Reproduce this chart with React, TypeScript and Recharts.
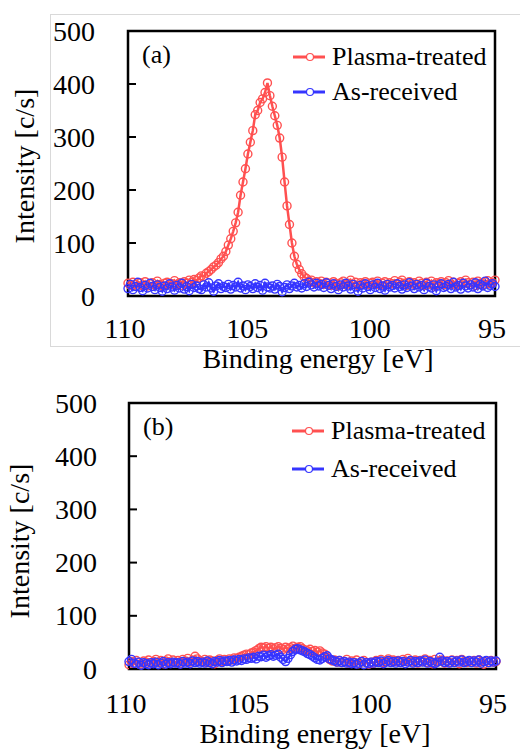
import { LineChart, Line, XAxis, YAxis, ReferenceArea, Legend, Label } from 'recharts';

const FONT = 'Liberation Serif';
const RED = '#ff5050';
const BLUE = '#3535ff';

// binding energy [eV], 0.1 eV steps
const energy = [
  110.0, 109.9, 109.8, 109.7, 109.6, 109.5, 109.4, 109.3, 109.2, 109.1,
  109.0, 108.9, 108.8, 108.7, 108.6, 108.5, 108.4, 108.3, 108.2, 108.1,
  108.0, 107.9, 107.8, 107.7, 107.6, 107.5, 107.4, 107.3, 107.2, 107.1,
  107.0, 106.9, 106.8, 106.7, 106.6, 106.5, 106.4, 106.3, 106.2, 106.1,
  106.0, 105.9, 105.8, 105.7, 105.6, 105.5, 105.4, 105.3, 105.2, 105.1,
  105.0, 104.9, 104.8, 104.7, 104.6, 104.5, 104.4, 104.3, 104.2, 104.1,
  104.0, 103.9, 103.8, 103.7, 103.6, 103.5, 103.4, 103.3, 103.2, 103.1,
  103.0, 102.9, 102.8, 102.7, 102.6, 102.5, 102.4, 102.3, 102.2, 102.1,
  102.0, 101.9, 101.8, 101.7, 101.6, 101.5, 101.4, 101.3, 101.2, 101.1,
  101.0, 100.9, 100.8, 100.7, 100.6, 100.5, 100.4, 100.3, 100.2, 100.1,
  100.0, 99.9, 99.8, 99.7, 99.6, 99.5, 99.4, 99.3, 99.2, 99.1,
  99.0, 98.9, 98.8, 98.7, 98.6, 98.5, 98.4, 98.3, 98.2, 98.1,
  98.0, 97.9, 97.8, 97.7, 97.6, 97.5, 97.4, 97.3, 97.2, 97.1,
  97.0, 96.9, 96.8, 96.7, 96.6, 96.5, 96.4, 96.3, 96.2, 96.1,
  96.0, 95.9, 95.8, 95.7, 95.6, 95.5, 95.4, 95.3, 95.2, 95.1,
  95.0,
];

// panel (a)
const plasmaA = [
  24, 20, 26, 22, 18, 25, 21, 27, 19, 23,
  25, 20, 28, 22, 19, 24, 26, 21, 23, 29,
  22, 25, 20, 27, 24, 30, 26, 31, 29, 34,
  38, 37, 43, 46, 50, 55, 58, 63, 70, 75,
  84, 96, 108, 122, 138, 158, 190, 215, 240, 268,
  290, 312, 342, 350, 365, 372, 384, 402, 378, 358,
  340, 322, 298, 262, 215, 170, 135, 100, 75, 60,
  50, 42, 36, 33, 28, 30, 25, 27, 24, 28,
  22, 26, 24, 20, 27, 23, 19, 25, 28, 21,
  24, 30, 22, 26, 20, 25, 23, 27, 21, 24,
  26, 22, 28, 20, 24, 27, 21, 25, 23, 29,
  22, 26, 30, 24, 20, 27, 23, 25, 21, 28,
  24, 20, 26, 22, 28, 19, 25, 23, 27, 21,
  25, 29, 22, 26, 20, 24, 27, 23, 30, 25,
  22, 26, 20, 28, 24, 21, 27, 29, 23, 25,
  30,
];
const asReceivedA = [
  14, 22, 12, 18, 26, 16, 10, 20, 15, 24,
  18, 12, 21, 16, 9, 19, 14, 23, 17, 11,
  20, 15, 24, 13, 18, 10, 22, 16, 19, 14,
  12, 21, 17, 25, 15, 9, 19, 23, 14, 18,
  16, 22, 13, 20, 17, 26, 15, 19, 12, 21,
  18, 14, 23, 16, 20, 11, 24, 17, 15, 19,
  13, 22, 18, 8, 16, 21, 14, 19, 24, 17,
  20, 15, 23, 18, 26, 21, 17, 24, 19, 22,
  16, 25, 20, 14, 23, 18, 12, 21, 17, 24,
  19, 13, 22, 17, 9, 20, 15, 23, 18, 12,
  21, 16, 24, 14, 19, 11, 22, 17, 20, 15,
  23, 18, 13, 21, 16, 25, 19, 14, 22, 17,
  20, 12, 24, 18, 15, 21, 10, 19, 23, 16,
  18, 22, 14, 26, 17, 20, 13, 24, 19, 15,
  21, 17, 25, 14, 22, 19, 28, 16, 20, 23,
  18,
];

// panel (b)
const plasmaB = [
  8, 14, 10, 16, 12, 9, 15, 13, 17, 11,
  14, 18, 12, 16, 10, 15, 19, 13, 17, 12,
  16, 11, 18, 14, 20, 13, 17, 24, 19, 15,
  14, 18, 12, 17, 15, 10, 16, 19, 14, 18,
  15, 19, 17, 21, 20, 22, 24, 26, 28, 27,
  30, 32, 35, 38, 41, 40, 42, 39, 41, 38,
  40, 42, 39, 37, 41, 38, 40, 43, 39, 41,
  42, 38, 36, 34, 37, 33, 35, 32, 34, 30,
  28, 22, 18, 15, 17, 13, 16, 12, 14, 18,
  11, 15, 13, 17, 10, 14, 16, 12, 9, 13,
  11, 16, 14, 18, 12, 15, 19, 13, 17, 14,
  16, 12, 18, 14, 20, 15, 13, 17, 11, 16,
  14, 19, 12, 16, 10, 18, 13, 15, 17, 11,
  15, 12, 17, 13, 16, 10, 18, 14, 12, 15,
  13, 16, 11, 17, 14, 9, 15, 12, 16, 13,
  14,
];
const asReceivedB = [
  14, 18, 11, 9, 13, 7, 12, 10, 8, 12,
  10, 13, 8, 11, 14, 9, 12, 10, 13, 11,
  12, 9, 14, 11, 13, 10, 15, 12, 14, 11,
  13, 11, 15, 12, 10, 14, 13, 16, 12, 15,
  14, 16, 13, 17, 15, 18, 16, 19, 18, 21,
  20, 22, 19, 24, 23, 26, 22, 25, 27, 24,
  26, 28, 22, 18, 14, 20, 27, 33, 37, 38,
  36, 34, 32, 29, 27, 24, 21, 18, 17, 20,
  23, 25, 19, 17, 15, 13, 16, 12, 14, 11,
  13, 10, 12, 9, 11, 14, 8, 12, 10, 13,
  11, 14, 12, 15, 10, 13, 16, 12, 14, 11,
  15, 12, 14, 10, 13, 16, 11, 14, 12, 15,
  13, 17, 11, 14, 12, 10, 13, 22, 15, 12,
  14, 11, 16, 12, 15, 13, 17, 12, 14, 16,
  12, 15, 13, 17, 11, 14, 16, 12, 15, 13,
  15,
];

const xTicks = [110, 105, 100, 95];
const yTicks = [0, 100, 200, 300, 400, 500];
const seriesNames = ['Plasma-treated', 'As-received'];

function XTick(props: any) {
  const { x, y, payload } = props;
  return (
    <text x={x - 3} y={y} textAnchor="middle" fontSize={28} fontFamily={FONT} fill="#000">
      {payload.value}
    </text>
  );
}

function YTick(props: any) {
  const { x, y, payload, gap } = props;
  return (
    <g>
      <text x={x} y={y} dy="0.34em" textAnchor="end" fontSize={28} fontFamily={FONT} fill="#000">
        {payload.value}
      </text>
      <line x1={x + gap} x2={x + gap + 8} y1={y} y2={y} stroke="#000" strokeWidth={2} />
    </g>
  );
}

function LegendBox({ rows }: { rows: number[] }) {
  const colors = [RED, BLUE];
  return (
    <svg width={230} height={90}>
      {seriesNames.map((name, i) => (
        <g key={name}>
          <line x1={8} x2={40} y1={rows[i]} y2={rows[i]} stroke={colors[i]} strokeWidth={3} />
          <circle cx={25} cy={rows[i]} r={3.5} fill="#fff" stroke={colors[i]} strokeWidth={1.2} />
          <text x={47} y={rows[i] + 8} fontSize={26} fontFamily={FONT} fill="#000">
            {name}
          </text>
        </g>
      ))}
    </svg>
  );
}

function Panel({ cfg, plasma, asReceived }: any) {
  const rows = energy.map((e, i) => ({ e, plasma: plasma[i], asrec: asReceived[i] }));
  return (
    <LineChart width={520} height={375} data={rows} margin={cfg.margin}>
      <XAxis
        dataKey="e"
        type="number"
        domain={[95, 110]}
        reversed
        ticks={xTicks}
        interval={0}
        axisLine={false}
        tickLine={false}
        tickSize={0}
        tickMargin={cfg.xTickGap}
        tick={(p: any) => <XTick {...p} />}
        height={40}
      >
        <Label
          content={() => (
            <text x={cfg.xTitle[0]} y={cfg.xTitle[1]} textAnchor="middle" fontSize={28} fontFamily={FONT} fill="#000">
              Binding energy [eV]
            </text>
          )}
        />
      </XAxis>
      <YAxis
        type="number"
        domain={[0, 500]}
        ticks={yTicks}
        interval={0}
        width={78}
        axisLine={false}
        tickLine={false}
        tickSize={0}
        tickMargin={cfg.yTickGap}
        tick={(p: any) => <YTick {...p} gap={cfg.yTickGap} />}
      >
        <Label
          content={() => (
            <text
              x={cfg.yTitle[0]}
              y={cfg.yTitle[1]}
              transform={`rotate(-90 ${cfg.yTitle[0]} ${cfg.yTitle[1]})`}
              textAnchor="middle"
              fontSize={28}
              fontFamily={FONT}
              fill="#000"
            >
              Intensity [c/s]
            </text>
          )}
        />
      </YAxis>
      <ReferenceArea
        x1={110}
        x2={95}
        y1={0}
        y2={500}
        fill="none"
        fillOpacity={0}
        stroke="#000"
        strokeWidth={2.5}
        ifOverflow="visible"
        label={{ value: cfg.tag, position: 'insideTopLeft', offset: 14, fontSize: 26, fontFamily: FONT, fill: '#000' }}
      />
      <Line
        dataKey="plasma"
        name={seriesNames[0]}
        type="linear"
        stroke={RED}
        strokeWidth={2.5}
        dot={{ r: 4, stroke: RED, strokeWidth: 1.4, fill: 'none' }}
        isAnimationActive={false}
      />
      <Line
        dataKey="asrec"
        name={seriesNames[1]}
        type="linear"
        stroke={BLUE}
        strokeWidth={2.5}
        dot={{ r: 4, stroke: BLUE, strokeWidth: 1.4, fill: 'none' }}
        isAnimationActive={false}
      />
      <Legend
        layout="vertical"
        align="center"
        verticalAlign="middle"
        wrapperStyle={{ position: 'absolute', top: cfg.legend.top, left: cfg.legend.left, width: 230, height: 90 }}
        content={() => <LegendBox rows={cfg.legend.rows} />}
      />
    </LineChart>
  );
}

const cfgA = {
  tag: '(a)',
  margin: { top: 31, right: 25, left: 50, bottom: 39 },
  xTickGap: 42,
  yTickGap: 33,
  xTitle: [318, 368],
  yTitle: [34, 166],
  legend: { top: 30, left: 285, rows: [27, 62] },
};

const cfgB = {
  tag: '(b)',
  margin: { top: 28, right: 24, left: 51, bottom: 41 },
  xTickGap: 44,
  yTickGap: 32,
  xTitle: [315, 368],
  yTitle: [29, 166],
  legend: { top: 30, left: 284, rows: [26, 64] },
};

export default function App() {
  return (
    <div
      style={{
        position: 'absolute',
        left: 0,
        top: 0,
        width: 520,
        height: 750,
        overflow: 'hidden',
        background: '#fff',
        fontFamily: FONT,
      }}
    >
      <div
        style={{
          position: 'absolute',
          left: 50,
          top: 14,
          width: 480,
          height: 333,
          boxSizing: 'border-box',
          borderTop: '1px solid #d9d9d9',
          borderLeft: '1px solid #d9d9d9',
          borderBottom: '1px solid #d9d9d9',
        }}
      />
      <div style={{ position: 'absolute', left: 0, top: 0 }}>
        <Panel cfg={cfgA} plasma={plasmaA} asReceived={asReceivedA} />
      </div>
      <div style={{ position: 'absolute', left: 0, top: 375 }}>
        <Panel cfg={cfgB} plasma={plasmaB} asReceived={asReceivedB} />
      </div>
    </div>
  );
}
